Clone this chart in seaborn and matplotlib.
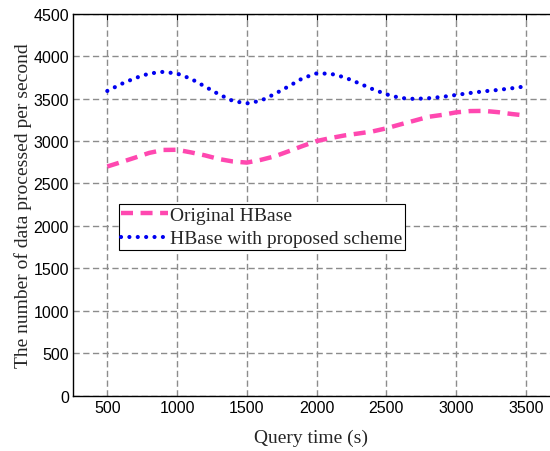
import numpy as np
import pandas as pd
import matplotlib
matplotlib.use("Agg")
import matplotlib.pyplot as plt
import seaborn as sns

# Query time (s), every 100 s
query_time = list(range(500, 3501, 100))

original_hbase = [2700, 2752, 2805, 2860, 2895, 2897, 2866, 2831, 2788, 2759,
                  2746, 2778, 2820, 2880, 2942, 3000, 3035, 3066, 3089, 3113,
                  3150, 3196, 3240, 3285, 3308, 3338, 3353, 3355, 3340, 3318,
                  3300]

proposed_scheme = [3590, 3672, 3742, 3795, 3815, 3795, 3733, 3642, 3550, 3472,
                   3443, 3475, 3555, 3645, 3740, 3797, 3793, 3750, 3683, 3612,
                   3550, 3507, 3496, 3504, 3520, 3543, 3566, 3586, 3602, 3622,
                   3645]

series_names = ["Original HBase", "HBase with proposed scheme"]
x_ticks = [500, 1000, 1500, 2000, 2500, 3000, 3500]
y_ticks = [0, 500, 1000, 1500, 2000, 2500, 3000, 3500, 4000, 4500]

df = pd.DataFrame({
    "t": query_time * 2,
    "v": original_hbase + proposed_scheme,
    "s": [series_names[0]] * len(query_time) + [series_names[1]] * len(query_time),
})

sns.set_style("white")
plt.rcParams["font.family"] = ["Liberation Sans", "DejaVu Sans"]

fig = plt.figure(figsize=(5.5, 4.52), dpi=100)
L, R, T, B = 73 / 550, 1.0, 14.7 / 452, 396.7 / 452
ax = fig.add_axes([L, 1 - B, R - L, B - T])

colors = {series_names[0]: "#ff48b0", series_names[1]: "#0000f0"}
for name in series_names:
    sub = df[df["s"] == name]
    sns.lineplot(data=sub, x="t", y="v", ax=ax, color=colors[name], label=name,
                 estimator=None, sort=False)

lines = ax.get_lines()
ln0, ln1 = lines[0], lines[1]
ln0.set_linewidth(3.2)
ln0.set_dashes((2.7, 1.7))
ln0.set_dash_capstyle("butt")
ln1.set_linewidth(3.0)
ln1.set_dashes((0.01, 2.0))
ln1.set_dash_capstyle("round")

# x range: 500 at px 107.3, 3500 at px 526
ppu = (526 - 107.3) / 3000
xmin = 500 - (107.3 - 73) / ppu
xmax = xmin + (550 - 73) / ppu
ax.set_xlim(xmin, xmax)
ax.set_ylim(0, 4500)
ax.set_xticks(x_ticks)
ax.set_yticks(y_ticks)
ax.tick_params(axis="both", direction="in", length=4, width=0.8,
               labelsize=11.5, top=True, right=False, pad=3, colors="black")

ax.grid(True, color="#8c8c8c", linestyle=(0, (4.5, 2.5)), linewidth=1.0)
for s in ["left", "bottom", "top"]:
    ax.spines[s].set_color("black")
    ax.spines[s].set_linewidth(1.0)
ax.spines["right"].set_visible(False)

serif = ["Liberation Serif", "DejaVu Serif"]
ax.set_xlabel("Query time (s)", fontsize=14, family=serif, labelpad=10)
ax.set_ylabel("The number of data processed per second", fontsize=14,
              family=serif, labelpad=1)

leg = ax.legend(handles=[ln0, ln1], labels=series_names, loc="upper left",
                bbox_to_anchor=((119 - 73) / (550 - 73), (396.7 - 205) / (396.7 - 14.7)),
                borderaxespad=0, prop={"family": serif, "size": 14},
                frameon=True, fancybox=False, framealpha=1, edgecolor="black",
                handlelength=2.4, handletextpad=0.12, borderpad=0.12,
                labelspacing=0.3)
leg.get_frame().set_linewidth(0.8)

fig.savefig("out.png", dpi=100)
